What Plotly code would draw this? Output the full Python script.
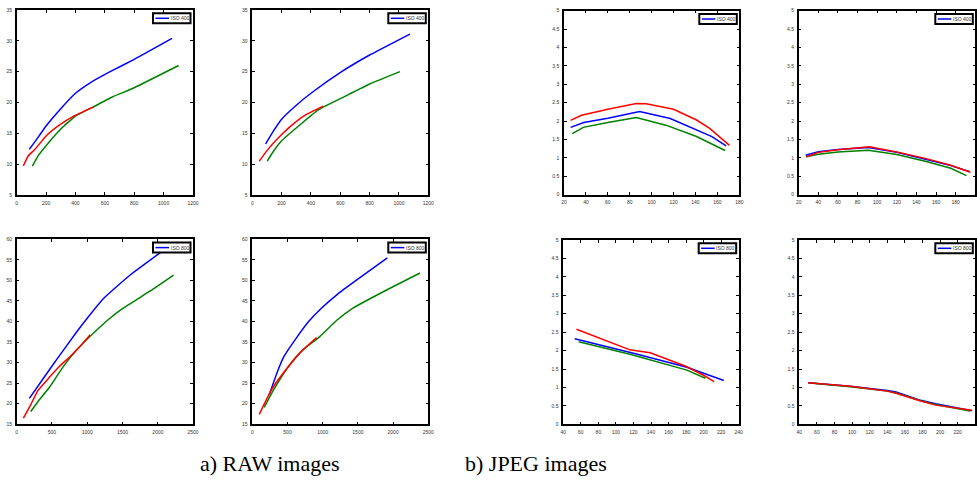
import plotly.graph_objects as go

# ---------------- data ----------------
# RAW, ISO 400, image 1
raw400a_blue_x = [86, 150, 200, 300, 400, 500, 636, 800, 1057]
raw400a_blue_y = [12.4, 14.5, 16.2, 19.0, 21.5, 23.2, 25.0, 27.0, 30.4]
raw400a_green_x = [107, 150, 200, 300, 400, 523, 650, 800, 1102]
raw400a_green_y = [9.7, 11.5, 13.0, 15.7, 17.8, 19.3, 20.9, 22.4, 26.0]
raw400a_red_x = [45, 80, 120, 205, 300, 398, 523]
raw400a_red_y = [9.7, 11.4, 12.3, 14.7, 16.5, 17.9, 19.3]

# RAW, ISO 400, image 2
raw400b_blue_x = [91, 150, 200, 302, 400, 609, 800, 1075]
raw400b_blue_y = [13.3, 15.6, 17.3, 19.6, 21.5, 25.0, 27.7, 31.1]
raw400b_green_x = [102, 150, 200, 336, 450, 632, 800, 1007]
raw400b_green_y = [10.5, 12.3, 13.8, 16.6, 18.8, 21.0, 23.0, 25.0]
raw400b_red_x = [48, 100, 200, 268, 350, 484]
raw400b_red_y = [10.5, 12.2, 14.8, 16.3, 17.8, 19.4]

# JPEG, ISO 400, image 1
jpg400a_blue_x = [26, 38, 60, 89, 117, 138, 155, 168]
jpg400a_blue_y = [1.83, 1.96, 2.08, 2.26, 2.07, 1.80, 1.58, 1.33]
jpg400a_green_x = [27.6, 37.6, 60, 86, 113, 141, 167]
jpg400a_green_y = [1.66, 1.83, 1.96, 2.10, 1.89, 1.58, 1.20]
jpg400a_red_x = [26, 36, 60, 86, 95, 120, 141, 153, 171]
jpg400a_red_y = [2.02, 2.16, 2.32, 2.48, 2.47, 2.32, 2.03, 1.80, 1.34]

# JPEG, ISO 400, image 2
jpg400b_blue_x = [27, 40, 60, 91, 120, 150, 175, 194]
jpg400b_blue_y = [1.07, 1.17, 1.23, 1.28, 1.15, 0.96, 0.79, 0.63]
jpg400b_green_x = [27.5, 40, 60, 91, 120, 150, 175, 191]
jpg400b_green_y = [1.03, 1.10, 1.16, 1.21, 1.09, 0.90, 0.72, 0.52]
jpg400b_red_x = [28, 40, 60, 92, 120, 150, 175, 195]
jpg400b_red_y = [1.03, 1.15, 1.22, 1.30, 1.16, 0.98, 0.80, 0.61]

# RAW, ISO 800, image 1
raw800a_blue_x = [180, 379, 568, 852, 1000, 1231, 1600, 2080]
raw800a_blue_y = [21.3, 26.2, 30.8, 37.5, 40.8, 45.6, 51.2, 57.3]
raw800a_green_x = [199, 300, 473, 650, 829, 1042, 1300, 1515, 1900, 2225]
raw800a_green_y = [18.1, 20.5, 24.2, 28.8, 32.7, 36.4, 40.5, 43.3, 47.5, 51.3]
raw800a_red_x = [95, 200, 300, 473, 600, 758, 900, 1042]
raw800a_red_y = [16.5, 19.8, 23.2, 26.6, 29.0, 31.5, 34.0, 36.8]

# RAW, ISO 800, image 2
raw800b_blue_x = [241, 350, 450, 630, 800, 985, 1200, 1435, 1918]
raw800b_blue_y = [22.2, 27.5, 31.5, 36.1, 40.0, 43.3, 46.5, 49.5, 55.5]
raw800b_green_x = [170, 300, 511, 700, 961, 1200, 1435, 1900, 2382]
raw800b_green_y = [19.1, 23.3, 29.0, 32.8, 36.4, 40.3, 43.3, 47.6, 51.8]
raw800b_red_x = [99, 200, 300, 511, 700, 914]
raw800b_red_y = [17.4, 21.0, 24.2, 29.0, 32.8, 36.1]

# JPEG, ISO 800, image 1
jpg800a_blue_x = [53, 120, 181, 223]
jpg800a_blue_y = [2.32, 1.93, 1.55, 1.19]
jpg800a_green_x = [57.5, 116, 181, 202]
jpg800a_green_y = [2.24, 1.90, 1.47, 1.25]
jpg800a_red_x = [55, 85, 116, 139, 160, 179, 200, 212]
jpg800a_red_y = [2.58, 2.30, 2.02, 1.94, 1.75, 1.58, 1.33, 1.16]

# JPEG, ISO 800, image 2
jpg800b_blue_x = [50, 98, 140, 150, 178, 195, 236]
jpg800b_blue_y = [1.13, 1.03, 0.92, 0.88, 0.65, 0.56, 0.37]
jpg800b_green_x = [52, 98, 140, 150, 178, 195, 234]
jpg800b_green_y = [1.12, 1.02, 0.90, 0.85, 0.64, 0.54, 0.36]
jpg800b_red_x = [50, 98, 140, 150, 178, 195, 236]
jpg800b_red_y = [1.13, 1.03, 0.90, 0.84, 0.63, 0.52, 0.38]

legend_names = ["ISO 400", "ISO 800"]
captions = ["a) RAW images", "b) JPEG images"]

# ---------------- layout helpers ----------------
W, H = 977, 487
BLUE, GREEN, RED = "#0000ff", "#008000", "#ff0000"

panels = [
    ((raw400a_blue_x, raw400a_blue_y, raw400a_green_x, raw400a_green_y, raw400a_red_x, raw400a_red_y),
     (16.7, 193), (10, 195), [0, 1200], 200, [5, 35], 5, legend_names[0], True),
    ((raw400b_blue_x, raw400b_blue_y, raw400b_green_x, raw400b_green_y, raw400b_red_x, raw400b_red_y),
     (252.3, 428.3), (10, 195), [0, 1200], 200, [5, 35], 5, legend_names[0], True),
    ((jpg400a_blue_x, jpg400a_blue_y, jpg400a_green_x, jpg400a_green_y, jpg400a_red_x, jpg400a_red_y),
     (564, 739.3), (10.7, 194.7), [20, 180], 20, [0, 5], 0.5, legend_names[0], False),
    ((jpg400b_blue_x, jpg400b_blue_y, jpg400b_green_x, jpg400b_green_y, jpg400b_red_x, jpg400b_red_y),
     (798.7, 975.3), (10.7, 194.7), [20, 200], 20, [0, 5], 0.5, legend_names[0], False),
    ((raw800a_blue_x, raw800a_blue_y, raw800a_green_x, raw800a_green_y, raw800a_red_x, raw800a_red_y),
     (16.7, 193), (239.3, 424.3), [0, 2500], 500, [15, 60], 5, legend_names[1], True),
    ((raw800b_blue_x, raw800b_blue_y, raw800b_green_x, raw800b_green_y, raw800b_red_x, raw800b_red_y),
     (252.3, 428.3), (239.3, 424.3), [0, 2500], 500, [15, 60], 5, legend_names[1], True),
    ((jpg800a_blue_x, jpg800a_blue_y, jpg800a_green_x, jpg800a_green_y, jpg800a_red_x, jpg800a_red_y),
     (563.3, 738.7), (240, 424.3), [40, 240], 20, [0, 5], 0.5, legend_names[1], False),
    ((jpg800b_blue_x, jpg800b_blue_y, jpg800b_green_x, jpg800b_green_y, jpg800b_red_x, jpg800b_red_y),
     (799.3, 975.3), (240, 424.3), [40, 240], 20, [0, 5], 0.5, legend_names[1], False),
]

fig = go.Figure()
layout = {}
tickfont = dict(family="Liberation Sans, Arial, sans-serif", size=5, color="#333333")
shapes = []
annotations = []

for i, (data, (x0, x1), (y0, y1), xr, xd, yr, yd, lname, smooth) in enumerate(panels, start=1):
    sfx = "" if i == 1 else str(i)
    xa, ya = "x" + sfx, "y" + sfx
    bx, by, gx, gy, rx, ry = data
    shape_kw = dict(shape="spline", smoothing=0.4) if smooth else dict(shape="linear")
    fig.add_trace(go.Scatter(x=bx, y=by, mode="lines", line=dict(color=BLUE, width=1.5, **shape_kw),
                             name=lname, xaxis=xa, yaxis=ya, showlegend=False))
    fig.add_trace(go.Scatter(x=gx, y=gy, mode="lines", line=dict(color=GREEN, width=1.5, **shape_kw),
                             name="green", xaxis=xa, yaxis=ya, showlegend=False))
    fig.add_trace(go.Scatter(x=rx, y=ry, mode="lines", line=dict(color=RED, width=1.5, **shape_kw),
                             name="red", xaxis=xa, yaxis=ya, showlegend=False))
    common = dict(showline=True, linecolor="black", linewidth=1.5, mirror="ticks",
                  ticks="inside", ticklen=3, tickwidth=1, tickcolor="black",
                  showgrid=False, zeroline=False, tickfont=tickfont, fixedrange=True,
                  automargin=False)
    layout["xaxis" + sfx] = dict(common, domain=[x0 / W, x1 / W], range=xr, dtick=xd,
                                  tick0=xr[0], anchor=ya, ticklabelstandoff=2)
    layout["yaxis" + sfx] = dict(common, domain=[1 - y1 / H, 1 - y0 / H], range=yr, dtick=yd,
                                  tick0=yr[0], anchor=xa, ticklabelstandoff=2)

    # legend box (top-right inside each panel)
    lx1 = x1 - 2.5
    lx0 = lx1 - 37.5
    ly0 = y0 + 3.3
    ly1 = ly0 + 10
    shapes.append(dict(type="rect", xref="paper", yref="paper",
                       x0=lx0 / W, x1=lx1 / W, y0=1 - ly1 / H, y1=1 - ly0 / H,
                       line=dict(color="black", width=2), fillcolor="white", layer="above"))
    ym = (ly0 + ly1) / 2
    shapes.append(dict(type="line", xref="paper", yref="paper",
                       x0=(lx0 + 2.5) / W, x1=(lx0 + 16) / W, y0=1 - ym / H, y1=1 - ym / H,
                       line=dict(color=BLUE, width=1.5), layer="above"))
    annotations.append(dict(text=lname, x=(lx0 + 16.5) / W, y=1 - ym / H, xref="paper", yref="paper",
                            showarrow=False, xanchor="left", yanchor="middle",
                            borderpad=0,
                            font=dict(family="Liberation Sans, Arial, sans-serif", size=5, color="#333333")))

fig.update_layout(**layout)
fig.update_layout(width=W, height=H, margin=dict(l=0, r=0, t=0, b=0, autoexpand=False),
                  paper_bgcolor="white", plot_bgcolor="white", showlegend=False,
                  shapes=shapes)

for a in annotations:
    fig.add_annotation(**a)

fig.add_annotation(text=captions[0], x=270 / W, y=1 - 463 / H, xref="paper", yref="paper",
                   showarrow=False, xanchor="center", yanchor="middle",
                   font=dict(family="Liberation Serif, DejaVu Serif, serif", size=22, color="black"))
fig.add_annotation(text=captions[1], x=536 / W, y=1 - 463 / H, xref="paper", yref="paper",
                   showarrow=False, xanchor="center", yanchor="middle",
                   font=dict(family="Liberation Serif, DejaVu Serif, serif", size=22, color="black"))

fig.write_html("out.html", config={"displayModeBar": False},
               post_script="document.body.style.margin='0';document.body.style.overflow='hidden';")
